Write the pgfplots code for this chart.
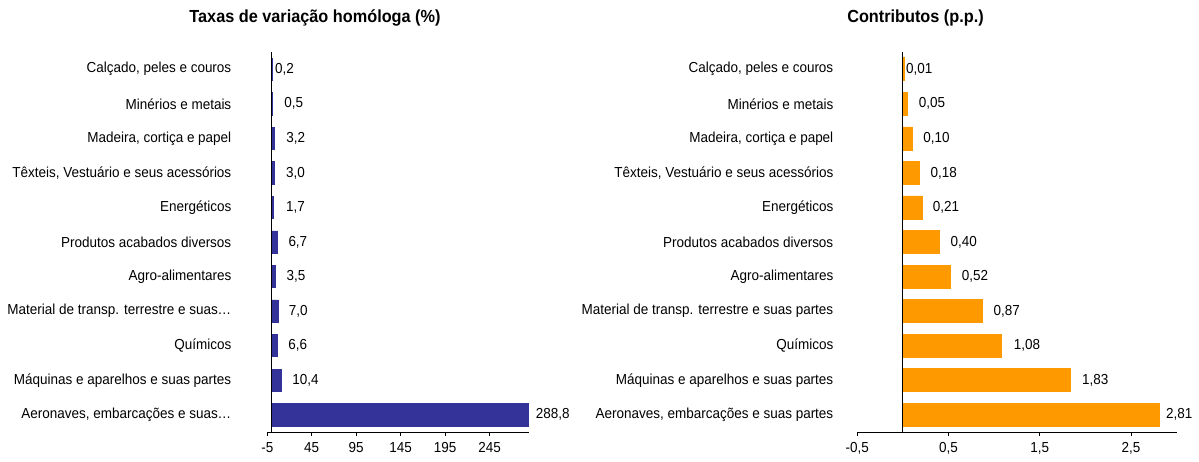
\documentclass[border=0pt]{standalone}
\usepackage{pgfplots}
\pgfplotsset{compat=1.18}
\usepackage{pgfplotstable}
\usepackage{fontspec}
\setmainfont{Liberation Sans}[FakeStretch=0.93]
\definecolor{barblue}{HTML}{333399}
\definecolor{barorange}{HTML}{FF9900}

\pgfplotstableread{
y x lbl dx
10 0.2 0,2 3
9 0.5 0,5 12
8 3.2 3,2 11.5
7 3.0 3,0 11.5
6 1.7 1,7 12.5
5 6.7 6,7 10.5
4 3.5 3,5 11.5
3 7.0 7,0 10.5
2 6.6 6,6 10.5
1 10.4 10,4 11
0 288.8 288,8 7
}\taxas

\pgfplotstableread{
y x lbl dx
10 0.01 0,01 2
9 0.05 0,05 11
8 0.10 0,10 11
7 0.18 0,18 11
6 0.21 0,21 10.5
5 0.40 0,40 11
4 0.52 0,52 11.3
3 0.87 0,87 11
2 1.08 1,08 12
1 1.83 1,83 12
0 2.81 2,81 6.5
}\contrib

\begin{document}
\fontsize{14.5}{17}\selectfont
\begin{tikzpicture}
\useasboundingbox (0pt,0pt) rectangle (1199pt,461pt);
\pgfplotsset{
  base/.style={
    scale only axis, anchor=south west, height=380pt,
    ymin=-0.5, ymax=10.5, clip=false,
    axis x line=bottom, axis y line=left,
    y axis line style={draw=none},
    x axis line style={-, black, line width=0.9pt},
    ytick={0,...,10},
    ytick style={draw=none},
    xtick style={black, line width=0.9pt},
    tick align=outside, major tick length=4pt,
    xbar, 
    /pgf/number format/use comma,
    /pgf/number format/assume math mode=true,
    /pgf/number format/fixed,
    tick label style={font=\fontsize{14.5}{17}\selectfont},
    xticklabel style={yshift=-1.5pt},
    point meta=explicit symbolic,
    nodes near coords,
    visualization depends on={\thisrow{dx} \as \dx},
    nodes near coords style={anchor=west, inner sep=0pt, xshift=\dx pt, font=\fontsize{14.5}{17}\selectfont, text=black},
  }
}
\begin{axis}[base,
  at={(267.3pt,29pt)}, width=261.7pt,
  xmin=-5, xmax=289.4,
  xtick={-5,45,95,145,195,245},
  bar width=22.3pt,
  yticklabel style={xshift=-27pt},
  yticklabels={{Aeronaves, embarcações e suas…},{Máquinas e aparelhos e suas partes},{Químicos},{Material de transp. terrestre e suas…},{Agro-alimentares},{Produtos acabados diversos},{Energéticos},{Têxteis, Vestuário e seus acessórios},{Madeira, cortiça e papel},{Minérios e metais},{Calçado, peles e couros}},
]
\addplot[fill=barblue, draw=barblue, line width=0.6pt] table[x=x, y=y, meta=lbl] {\taxas};
\draw[black, line width=0.9pt] (axis cs:0,-0.5) -- (axis cs:0,10.5);
\end{axis}

\begin{axis}[base,
  at={(857.3pt,29pt)}, width=319.4pt,
  xmin=-0.5, xmax=3,
  xtick={-0.5,0.5,1.5,2.5},
  bar width=23pt,
  yticklabel style={xshift=-15pt},
  yticklabels={{Aeronaves, embarcações e suas partes},{Máquinas e aparelhos e suas partes},{Químicos},{Material de transp. terrestre e suas partes},{Agro-alimentares},{Produtos acabados diversos},{Energéticos},{Têxteis, Vestuário e seus acessórios},{Madeira, cortiça e papel},{Minérios e metais},{Calçado, peles e couros}},
]
\addplot[fill=barorange, draw=barorange, line width=0.6pt] table[x=x, y=y, meta=lbl] {\contrib};
\draw[black, line width=0.9pt] (axis cs:0,-0.5) -- (axis cs:0,10.5);
\end{axis}

\node[font=\fontsize{17.5}{20}\selectfont\bfseries] at (315pt,443pt) {Taxas de variação homóloga (\%)};
\node[font=\fontsize{17.5}{20}\selectfont\bfseries] at (915.5pt,443pt) {Contributos (p.p.)};
\end{tikzpicture}
\end{document}
